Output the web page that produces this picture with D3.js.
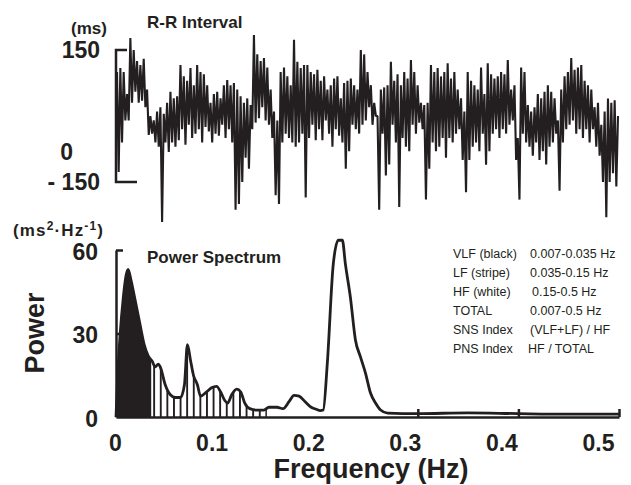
<!DOCTYPE html>
<html>
<head>
<meta charset="utf-8">
<script src="https://cdn.jsdelivr.net/npm/d3@7"></script>
<style>
  body { margin: 0; background: #fff; }
  svg { display: block; }
  text { font-family: "Liberation Sans", Arial, sans-serif; fill: #231f20; }
</style>
</head>
<body>
<div id="chart"></div>
<script>
// R-R interval deviations (ms) left to right
var rrValues = [
  100,-127,109,-60,100,-10, 50,-10,177,30,150,55, 125,30,116,35,130,20,
  60,-43,0,-40,-10,-60, 10,-70,20,-241,5,-60, 30,-82,55,-60,40,-70,
  45,-55,116,-30,90,-65, 80,-20,109,-50,70,-40, 116,-30,100,-60,95,-25,
  70,-35,30,-60,50,-40, 55,-45,40,-20,70,-50, 82,-30,70,-60,75,-213,
  60,-200,45,-150,30,-95, 40,-120,25,-30,184,-15, 140,-5,125,20,132,-10,
  110,-20,60,-50,10,-180, -10,-200,100,-60,110,-40, 90,-50,70,-60,173,-70,
  123,-60,109,-40,116,-185, 116,-50,100,-20,95,-55, 105,-30,80,-55,90,-10,
  60,-40,70,-70,85,-30, 90,-45,40,-60,75,-120, 80,-80,85,-20,70,-30,
  60,-40,150,-20,140,-10, 100,20,70,-20,30,0, 0,-213,60,-40,65,-135,
  70,-110,123,-20,80,-60, 95,-207,70,-50,100,-70, 85,-80,127,-20,100,-40,
  70,-15,30,-30,25,-190, 30,-120,116,-60,100,-80, 109,-70,90,-50,100,-95,
  120,-50,85,-60,100,-40, 60,-30,40,-100,10,-173, 100,-100,80,-70,70,-60,
  60,-80,110,-40,50,-111, 120,-80,95,-40,85,-30, 90,-50,100,-30,95,-40,
  127,-20,60,-10,70,-100, -50,-190,110,-40,100,-60, 25,-70,10,-90,20,-60,
  50,-100,40,-80,55,-110, 70,-70,55,-60,40,-40, -10,-170,60,-60,90,-30,
  100,-20,132,-10,105,-40, 110,-30,116,-50,80,-30, 70,-60,60,-30,20,-70,
  30,-90,-20,-150,10,-230, 40,-150,30,-130,36,-160,0
];
var rrTicks = [150, 0, -150];

// Power spectrum
var freqs = [0, 0.002, 0.007, 0.012, 0.015, 0.019, 0.024, 0.028, 0.032, 0.036,
  0.039, 0.042, 0.044, 0.049, 0.054, 0.059, 0.064, 0.068, 0.071, 0.074,
  0.077, 0.081, 0.084, 0.090, 0.095, 0.100, 0.104, 0.108, 0.111, 0.115,
  0.120, 0.124, 0.128, 0.133, 0.140, 0.147, 0.152, 0.160, 0.166, 0.172,
  0.177, 0.182, 0.188, 0.194, 0.199, 0.203, 0.206, 0.210, 0.216, 0.221,
  0.225, 0.228, 0.233, 0.238, 0.243, 0.248, 0.253, 0.258, 0.263, 0.270,
  0.30, 0.35, 0.40, 0.45, 0.50];
var powers = [0, 17, 42, 53, 49, 42, 33, 26, 22, 20,
  18, 19, 18, 11.5, 8, 7, 7, 11.5, 26, 20.5,
  15, 11.5, 7.5, 9, 10.5, 11, 9, 6, 5, 8,
  10, 9, 5, 3, 2.5, 2.5, 3.5, 3.5, 3, 5.5,
  7.8, 7.5, 5.5, 3.5, 2.8, 2.3, 2.5, 19, 55, 63.5,
  63.5, 55, 43, 27.7, 21.6, 15.8, 8.6, 5, 2.5, 1.4,
  1.2, 1.5, 1.2, 1.0, 1.0];
var powerTicks = [60, 30, 0];
var freqTicks = [0, 0.1, 0.2, 0.3, 0.4, 0.5];
var vlfBand = [0, 0.035];
var lfBand = [0.035, 0.15];

var legendNames = ["VLF (black)", "LF (stripe)", "HF (white)", "TOTAL", "SNS Index", "PNS Index"];
var legendRanges = ["0.007-0.035 Hz", "0.035-0.15 Hz", "0.15-0.5 Hz", "0.007-0.5 Hz", "(VLF+LF) / HF", "HF / TOTAL"];

var ink = "#231f20";

var svg = d3.select("#chart").append("svg")
  .attr("width", 631)
  .attr("height", 485);

// ---------- R-R interval ----------
var rrX = d3.scaleLinear().domain([0, rrValues.length - 1]).range([117, 618]);
var rrY = d3.scaleLinear().domain([-150, 150]).range([182, 50]);
var rrLabelY = d3.scaleLinear().domain([-150, 0, 150]).range([182, 152, 50]);

svg.append("path")
  .datum(rrValues)
  .attr("fill", "none")
  .attr("stroke", ink)
  .attr("stroke-width", 2.1)
  .attr("stroke-linejoin", "bevel")
  .attr("d", d3.line().x((d, i) => rrX(i)).y(d => rrY(d)));

// bracket
svg.append("path")
  .attr("fill", "none")
  .attr("stroke", ink)
  .attr("stroke-width", 2.5)
  .attr("d", "M127," + rrY(150) + "H116V" + rrY(-150) + "H137");

svg.selectAll(".rrtick")
  .data(rrTicks)
  .enter()
  .append("text")
  .attr("class", "rrtick")
  .attr("x", d => d === 0 ? 73 : 100)
  .attr("y", d => rrLabelY(d))
  .attr("dy", "0.36em")
  .attr("text-anchor", "end")
  .style("font-size", "23px")
  .style("font-weight", "bold")
  .text(d => d < 0 ? "- " + Math.abs(d) : d);

svg.append("text")
  .attr("x", 89).attr("y", 34)
  .attr("text-anchor", "middle")
  .style("font-size", "17px").style("font-weight", "bold")
  .text("(ms)");

svg.append("text")
  .attr("x", 147).attr("y", 28)
  .style("font-size", "17px").style("font-weight", "bold")
  .text("R-R Interval");

// ---------- Power spectrum ----------
var fx = d3.scaleLinear().domain([0, 0.5]).range([116, 619]);
var labelX = d3.scaleLinear().domain([0, 0.5]).range([115, 598]);
var py = d3.scaleLinear().domain([0, 60]).range([417, 250]);

var spec = freqs.map((f, i) => ({ f: f, p: powers[i] }));

var defs = svg.append("defs");
defs.append("clipPath").attr("id", "clipVlf")
  .append("rect")
  .attr("x", fx(vlfBand[0])).attr("y", 0)
  .attr("width", fx(vlfBand[1]) - fx(vlfBand[0])).attr("height", 485);
defs.append("clipPath").attr("id", "clipLf")
  .append("rect")
  .attr("x", fx(lfBand[0]) + 1).attr("y", 0)
  .attr("width", fx(lfBand[1]) - fx(lfBand[0]) - 1).attr("height", 485);
var pat = defs.append("pattern").attr("id", "stripes")
  .attr("patternUnits", "userSpaceOnUse")
  .attr("x", fx(lfBand[0]) + 2).attr("y", 0)
  .attr("width", 6.6).attr("height", 10);
pat.append("rect").attr("x", 0).attr("y", 0).attr("width", 1.9).attr("height", 10).attr("fill", ink);

var area = d3.area()
  .x(d => fx(d.f))
  .y0(py(0))
  .y1(d => py(d.p))
  .curve(d3.curveMonotoneX);

svg.append("path").datum(spec)
  .attr("clip-path", "url(#clipVlf)")
  .attr("fill", ink)
  .attr("d", area);

svg.append("path").datum(spec)
  .attr("clip-path", "url(#clipLf)")
  .attr("fill", "url(#stripes)")
  .attr("d", area);

svg.append("path").datum(spec)
  .attr("fill", "none")
  .attr("stroke", ink)
  .attr("stroke-width", 2.8)
  .attr("stroke-linejoin", "round")
  .attr("d", d3.line().x(d => fx(d.f)).y(d => py(d.p)).curve(d3.curveMonotoneX));

// x axis line with upward ticks
var xAxis = svg.append("g")
  .attr("transform", "translate(0," + py(0) + ")")
  .call(d3.axisBottom(fx).tickValues([0.3, 0.4, 0.5]).tickSize(-8).tickSizeOuter(0).tickFormat(""));
xAxis.selectAll("path, line").attr("stroke", ink).attr("stroke-width", 2.5);

// x tick labels
var xLab = svg.append("g")
  .attr("transform", "translate(0,451)")
  .call(d3.axisBottom(labelX).tickValues(freqTicks).tickSize(0)
    .tickFormat(d => d === 0 ? "0" : d3.format(".1f")(d)));
xLab.select(".domain").remove();
xLab.selectAll("text")
  .attr("y", 0).attr("dy", null)
  .attr("fill", ink)
  .style("font-family", "\"Liberation Sans\", Arial, sans-serif")
  .style("font-size", "23px").style("font-weight", "bold");

// y axis line with right-pointing ticks
var yAxis = svg.append("g")
  .attr("transform", "translate(116,0)")
  .call(d3.axisRight(py).tickValues([30, 60]).tickSize(7).tickSizeOuter(0).tickFormat(""));
yAxis.selectAll("path, line").attr("stroke", ink).attr("stroke-width", 2.5);
yAxis.selectAll(".tick line").filter(d => d === 30).attr("x2", 3);

var yLab = svg.append("g")
  .attr("transform", "translate(116,0)")
  .call(d3.axisLeft(py).tickValues(powerTicks).tickSize(0).tickPadding(18));
yLab.select(".domain").remove();
yLab.selectAll("text")
  .attr("dy", "0.4em")
  .attr("fill", ink)
  .style("font-family", "\"Liberation Sans\", Arial, sans-serif")
  .style("font-size", "23px").style("font-weight", "bold");

// unit label
var unit = svg.append("text")
  .attr("x", 13).attr("y", 236)
  .attr("textLength", 90)
  .attr("lengthAdjust", "spacing")
  .style("font-size", "17px").style("font-weight", "bold");
unit.append("tspan").text("(ms");
unit.append("tspan").attr("dy", -6).style("font-size", "12px").text("2");
unit.append("tspan").attr("dy", 6).text("\u00b7Hz");
unit.append("tspan").attr("dy", -6).style("font-size", "12px").text("-1");
unit.append("tspan").attr("dy", 6).text(")");

svg.append("text")
  .attr("transform", "translate(34,333) rotate(-90)")
  .attr("text-anchor", "middle")
  .attr("dy", "0.36em")
  .style("font-size", "27px").style("font-weight", "bold")
  .text("Power");

svg.append("text")
  .attr("x", 147).attr("y", 263)
  .style("font-size", "17px").style("font-weight", "bold")
  .text("Power Spectrum");

svg.append("text")
  .attr("x", 371).attr("y", 478)
  .attr("text-anchor", "middle")
  .style("font-size", "27px").style("font-weight", "bold")
  .text("Frequency (Hz)");

// band legend
var legend = svg.selectAll(".legend")
  .data(legendNames)
  .enter()
  .append("g")
  .attr("class", "legend")
  .attr("transform", (d, i) => "translate(0," + (257.5 + i * 19) + ")");

legend.append("text")
  .attr("x", 453)
  .style("font-size", "12.5px")
  .text(d => d);

legend.append("text")
  .attr("x", (d, i) => i === 2 ? 532 : (i === 5 ? 528 : 530))
  .style("font-size", "12.5px")
  .text((d, i) => legendRanges[i]);
</script>
</body>
</html>
